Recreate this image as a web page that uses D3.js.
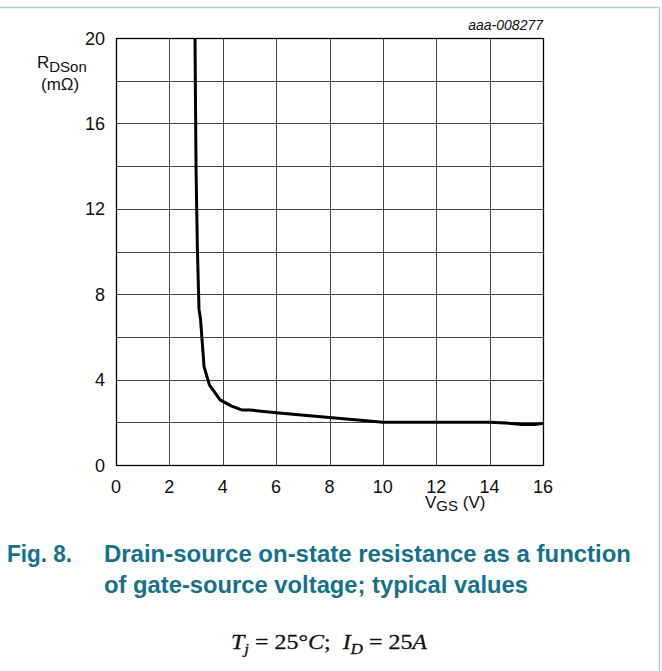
<!DOCTYPE html>
<html><head><meta charset="utf-8">
<script src="https://cdn.jsdelivr.net/npm/d3@7/dist/d3.min.js"></script>
<style>html,body{margin:0;padding:0;background:#fff;}svg{display:block;}</style>
</head><body>
<script>
const vgs = [2.96, 3.0, 3.05, 3.11, 3.17, 3.3, 3.5, 3.9, 4.33, 4.71, 5.0, 6.0, 8.0, 10.0, 12.0, 14.0, 14.6, 15.2, 15.7, 16.0];
const rdson = [20, 13.8, 10.1, 7.3, 6.8, 4.6, 3.75, 3.05, 2.76, 2.58, 2.58, 2.45, 2.23, 2.0, 2.0, 2.0, 1.97, 1.9, 1.9, 1.95];
const xTicks = [0, 2, 4, 6, 8, 10, 12, 14, 16];
const yTicks = [0, 4, 8, 12, 16, 20];
const xGrid = [0, 2, 4, 6, 8, 10, 12, 14, 16];
const yGrid = [0, 2, 4, 6, 8, 10, 12, 14, 16, 18, 20];

const W = 662, H = 671;
const svg = d3.select("body").append("svg").attr("width", W).attr("height", H);
const x = d3.scaleLinear().domain([0, 16]).range([116, 543]);
const y = d3.scaleLinear().domain([0, 20]).range([465, 38]);

// outer frame (light blue)
svg.append("line").attr("x1", 0).attr("x2", 659.5).attr("y1", 7.5).attr("y2", 7.5).attr("stroke", "#a8d0dc").attr("stroke-width", 1.5);
svg.append("line").attr("x1", 659.5).attr("x2", 659.5).attr("y1", 7.5).attr("y2", H).attr("stroke", "#a8d0dc").attr("stroke-width", 1.5);

// grid
svg.append("g").selectAll("line").data(xGrid).join("line")
  .attr("x1", d => Math.round(x(d)) + 0.5).attr("x2", d => Math.round(x(d)) + 0.5)
  .attr("y1", y(0)).attr("y2", y(20)).attr("stroke", "#444").attr("stroke-width", 1);
svg.append("g").selectAll("line").data(yGrid).join("line")
  .attr("y1", d => Math.round(y(d)) + 0.5).attr("y2", d => Math.round(y(d)) + 0.5)
  .attr("x1", x(0)).attr("x2", x(16)).attr("stroke", "#444").attr("stroke-width", 1);
svg.append("rect").attr("x", x(0) + 0.5).attr("y", y(20) + 0.5)
  .attr("width", x(16) - x(0)).attr("height", y(0) - y(20))
  .attr("fill", "none").attr("stroke", "#000").attr("stroke-width", 1.3);

// tick labels
const font = "'Liberation Sans', Arial, sans-serif";
svg.append("g").selectAll("text").data(xTicks).join("text")
  .attr("x", d => x(d)).attr("y", 493).attr("text-anchor", "middle")
  .attr("font-family", font).attr("font-size", 18).attr("fill", "#111").text(d => d);
svg.append("g").selectAll("text").data(yTicks).join("text")
  .attr("x", 105).attr("y", d => y(d) + 6.5).attr("text-anchor", "end")
  .attr("font-family", font).attr("font-size", 18).attr("fill", "#111").text(d => d);

// axis titles
const yl = svg.append("text").attr("x", 37).attr("y", 68).attr("font-family", font).attr("font-size", 17).attr("fill", "#111");
yl.append("tspan").text("R");
yl.append("tspan").attr("dy", 4).attr("font-size", 15).text("DSon");
svg.append("text").attr("x", 41).attr("y", 90).attr("font-family", font).attr("font-size", 17).attr("fill", "#111").text("(mΩ)");
const xl = svg.append("text").attr("x", 425).attr("y", 508).attr("font-family", font).attr("font-size", 17).attr("fill", "#111");
xl.append("tspan").text("V");
xl.append("tspan").attr("dy", 3).attr("font-size", 15).text("GS");
xl.append("tspan").attr("dy", -3).text(" (V)");

svg.append("text").attr("x", 543).attr("y", 30).attr("text-anchor", "end")
  .attr("font-family", font).attr("font-style", "italic").attr("font-size", 14).attr("fill", "#111").text("aaa-008277");

// curve
const pts = vgs.map((v, i) => [v, rdson[i]]);
const lineGen = d3.line().x(d => x(d[0])).y(d => y(d[1]));
svg.append("path").attr("d", lineGen(pts))
  .attr("fill", "none").attr("stroke", "#000").attr("stroke-width", 3).attr("stroke-linejoin", "round");

// caption
const teal = "#16718a";
svg.append("text").attr("x", 7).attr("y", 562).attr("font-family", font).attr("font-weight", "bold")
  .attr("font-size", 23).attr("fill", teal).attr("textLength", 65).attr("lengthAdjust", "spacingAndGlyphs").text("Fig. 8.");
svg.append("text").attr("x", 104).attr("y", 562).attr("font-family", font).attr("font-weight", "bold")
  .attr("font-size", 23).attr("fill", teal).attr("textLength", 527).attr("lengthAdjust", "spacingAndGlyphs").text("Drain-source on-state resistance as a function");
svg.append("text").attr("x", 104).attr("y", 593).attr("font-family", font).attr("font-weight", "bold")
  .attr("font-size", 23).attr("fill", teal).attr("textLength", 424).attr("lengthAdjust", "spacingAndGlyphs").text("of gate-source voltage; typical values");

// conditions
const serif = "'Liberation Serif', 'Times New Roman', serif";
const NB = "\u00a0";
const f = svg.append("text").attr("x", 231).attr("y", 649).attr("font-family", serif).attr("font-size", 21)
  .attr("fill", "#111").attr("stroke", "#111").attr("stroke-width", 0.3)
  .attr("textLength", 196).attr("lengthAdjust", "spacingAndGlyphs");
f.append("tspan").attr("font-style", "italic").text("T");
f.append("tspan").attr("font-style", "italic").attr("font-size", 15).attr("dy", 5).text("j");
f.append("tspan").attr("dy", -5).text(NB + "=" + NB + "25°");
f.append("tspan").attr("font-style", "italic").text("C");
f.append("tspan").text(";" + NB + NB);
f.append("tspan").attr("font-style", "italic").text("I");
f.append("tspan").attr("font-style", "italic").attr("font-size", 15).attr("dy", 5).text("D");
f.append("tspan").attr("dy", -5).text(NB + "=" + NB + "25");
f.append("tspan").attr("font-style", "italic").text("A");
</script>
</body></html>
